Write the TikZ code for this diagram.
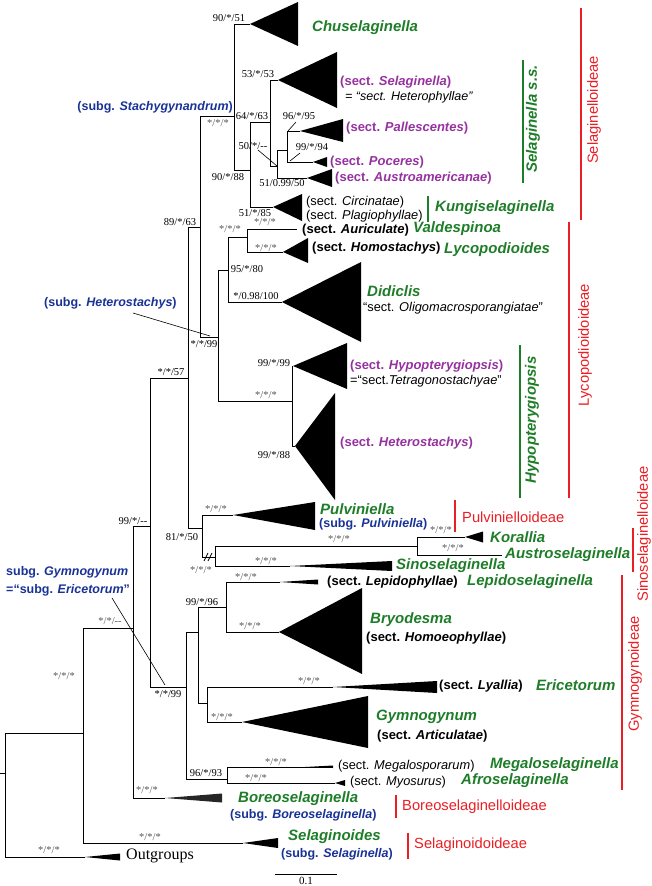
\documentclass[tikz,border=0pt]{standalone}
\usepackage{fontspec}
\setmainfont{Liberation Sans}
\newfontfamily\serifL{Liberation Serif}
\definecolor{gen}{RGB}{30,125,40}
\definecolor{purp}{RGB}{150,50,160}
\definecolor{sbl}{RGB}{25,50,150}
\definecolor{famc}{RGB}{235,30,35}
\definecolor{ast}{RGB}{85,85,85}
\tikzset{
  br/.style={line width=1pt},
  bsup/.style={font=\serifL\fontsize{10.5}{11}\selectfont, inner sep=0pt},
  gsup/.style={bsup, text=ast},
  genus/.style={font=\bfseries\itshape\fontsize{15}{16}\selectfont, text=gen, anchor=west, inner sep=0pt},
  sectn/.style={font=\fontsize{12.8}{14}\selectfont, anchor=west, inner sep=0pt},
  sectb/.style={font=\bfseries\fontsize{13}{14}\selectfont, anchor=west, inner sep=0pt},
  sectp/.style={sectb, text=purp},
  subg/.style={font=\bfseries\fontsize{12.5}{14}\selectfont, anchor=west, inner sep=0pt, text=sbl},
  fam/.style={font=\fontsize{14.7}{16}\selectfont, text=famc, inner sep=0pt},
  fambar/.style={draw=famc, line width=1.6pt},
  genbar/.style={draw=gen, line width=1.6pt},
  ptr/.style={line width=0.6pt},
}
\begin{document}
\begin{tikzpicture}[x=1pt,y=-1pt]
\path[use as bounding box] (0,0) rectangle (651,886);

% internal nodes
\coordinate (rt0) at (0,773);
\coordinate (root) at (5,773);
\coordinate (nA) at (83,733);
\coordinate (nB) at (133,628);
\coordinate (nC) at (150,526);
\coordinate (nD) at (188,378);
\coordinate (nE) at (200,227);
\coordinate (nF) at (234,116);
\coordinate (nF2) at (250,170);
\coordinate (nS) at (270,122);
\coordinate (nS2) at (277,166);
\coordinate (nS3) at (287,150);
\coordinate (nL) at (218,337);
\coordinate (nL1) at (228,270);
\coordinate (nL2) at (247,237);
\coordinate (nH) at (292,401);
\coordinate (nP) at (202,528);
\coordinate (nK) at (215,557);
\coordinate (nK2) at (417,546);
\coordinate (nG) at (186,687);
\coordinate (nG1) at (198,632);
\coordinate (nG2) at (226,607);
\coordinate (nG3) at (207,703);
\coordinate (nM) at (227,779);
% tips
\coordinate (tChus) at (250,24);
\coordinate (tSel) at (278,80);
\coordinate (tPall) at (300,131);
\coordinate (tPoc) at (313,162);
\coordinate (tAus) at (307,178);
\coordinate (tKun) at (273,207);
\coordinate (tVal) at (297,229);
\coordinate (tLyc) at (283,252);
\coordinate (tDid) at (282,302);
\coordinate (tHyp) at (293,366);
\coordinate (tHet) at (295,446);
\coordinate (tPul) at (233,515);
\coordinate (tKor) at (465,537);
\coordinate (tAsl) at (502,555);
\coordinate (tSin) at (290,566);
\coordinate (tLep) at (280,582);
\coordinate (tBry) at (279,632);
\coordinate (tLya) at (333,687);
\coordinate (tGym) at (242,722);
\coordinate (tMeg) at (333,767);
\coordinate (tMyo) at (335,783);
\coordinate (tBor) at (165,798);
\coordinate (tSgd) at (243,843);
\coordinate (tOut) at (85,857);

% branches
\draw[br] (rt0) -- (root);
\draw[br] (root) |- (nA); \draw[br] (root) |- (tOut);
\draw[br] (nA) |- (nB); \draw[br] (nA) |- (tSgd);
\draw[br] (nB) |- (nC); \draw[br] (nB) |- (tBor);
\draw[br] (nC) |- (nD); \draw[br] (nC) |- (nG);
\draw[br] (nD) |- (nE); \draw[br] (nD) |- (nP);
\draw[br] (nE) |- (nF); \draw[br] (nE) |- (nL);
\draw[br] (nF) |- (tChus); \draw[br] (nF) |- (nF2);
\draw[br] (nF2) |- (nS); \draw[br] (nF2) |- (tKun);
\draw[br] (nS) |- (tSel); \draw[br] (nS) |- (nS2);
\draw[br] (nS2) |- (nS3); \draw[br] (nS2) |- (tAus);
\draw[br] (nS3) |- (tPall); \draw[br] (nS3) |- (tPoc);
\draw[br] (nL) |- (nL1); \draw[br] (nL) |- (nH);
\draw[br] (nL1) |- (nL2); \draw[br] (nL1) |- (tDid);
\draw[br] (nL2) |- (tVal); \draw[br] (nL2) |- (tLyc);
\draw[br] (nH) |- (tHyp); \draw[br] (nH) |- (tHet);
\draw[br] (nP) |- (tPul); \draw[br] (nP) |- (nK);
\draw[br] (nK) |- (nK2); \draw[br] (nK) |- (tSin);
\draw[br] (nK2) |- (tKor); \draw[br] (nK2) |- (tAsl);
\draw[br] (nG) |- (nG1); \draw[br] (nG) |- (nM);
\draw[br] (nG1) |- (nG2); \draw[br] (nG1) |- (nG3);
\draw[br] (nG2) |- (tLep); \draw[br] (nG2) |- (tBry);
\draw[br] (nG3) |- (tLya); \draw[br] (nG3) |- (tGym);
\draw[br] (nM) |- (tMeg); \draw[br] (nM) |- (tMyo);
% break marks
\draw[line width=0.8pt] (204,561) -- (208,553) (208,561) -- (212,553);

% collapsed clades
\fill (tChus) -- ++(48,-22) -- ++(0,44) -- cycle;
\fill (tSel) -- ++(59,-28) -- ++(0,56) -- cycle;
\fill (tPall) -- ++(43,-12) -- ++(0,23) -- cycle;
\fill (tPoc) -- ++(14,-5) -- ++(0,10) -- cycle;
\fill (tAus) -- ++(25,-9) -- ++(0,18) -- cycle;
\fill (tKun) -- ++(29,-13) -- ++(0,27) -- cycle;
\fill (tLyc) -- ++(25,-14) -- ++(0,25) -- cycle;
\fill (tDid) -- ++(79,-40) -- ++(0,80) -- cycle;
\fill (tHyp) -- ++(54,-23) -- ++(0,46) -- cycle;
\fill (tHet) -- ++(40,-53) -- ++(0,107) -- cycle;
\fill (tPul) -- ++(82,-13) -- ++(0,28) -- cycle;
\fill (tKor) -- ++(18,-5.5) -- ++(0,11) -- cycle;
\fill (tSin) -- ++(102,-5) -- ++(0,10) -- cycle;
\fill (tLep) -- ++(38,-2.5) -- ++(0,5) -- cycle;
\fill (tBry) -- ++(83,-44) -- ++(0,86) -- cycle;
\fill (tLya) -- ++(104,-6) -- ++(0,12) -- cycle;
\fill (tGym) -- ++(126,-26) -- ++(0,52) -- cycle;
\fill (tMeg) -- ++(-28,0) -- ++(28,-1.5) -- ++(0,3) -- cycle;
\fill (tMyo) -- ++(10,-3) -- ++(0,6) -- cycle;
\fill[black!85] (tBor) -- ++(57,-4.5) -- ++(0,9) -- cycle;
\fill (tSgd) -- ++(35,-5) -- ++(0,10) -- cycle;
\fill (tOut) -- ++(35,-3.5) -- ++(0,7) -- cycle;

% support values
\node[bsup] (s01) at (229,18) {90/*/51};
\node[bsup] (s02) at (258,74) {53/*/53};
\node[bsup] (s03) at (252,116) {64/*/63};
\node[bsup] (s04) at (299,116) {96/*/95};
\node[bsup] (s05) at (253,146) {50/*/{-}{-}};
\node[bsup] (s06) at (312,147) {99/*/94};
\node[bsup] (s07) at (228,177) {90/*/88};
\node[bsup] (s08) at (282,183) {51/0.99/50};
\node[bsup] (s09) at (255,213) {51/*/85};
\node[bsup] (s10) at (180,222) {89/*/63};
\node[gsup] (s11) at (218,123) {*/*/*};
\node[gsup] (s12) at (265,222) {*/*/*};
\node[gsup] (s13) at (230,229) {*/*/*};
\node[gsup] (s14) at (266,248) {*/*/*};
\node[bsup] (s15) at (247,269) {95/*/80};
\node[bsup] (s16) at (256,296) {*/0.98/100};
\node[bsup] (s17) at (204,344) {*/*/99};
\node[bsup] (s18) at (171,372) {*/*/57};
\node[bsup] (s19) at (274,363) {99/*/99};
\node[gsup] (s20) at (266,395) {*/*/*};
\node[bsup] (s21) at (274,455) {99/*/88};
\node[gsup] (s22) at (216,509) {*/*/*};
\node[bsup] (s23) at (133,521) {99/*/{-}{-}};
\node[bsup] (s24) at (182,537) {81/*/50};
\node[gsup] (s25) at (339,539) {*/*/*};
\node[gsup] (s26) at (441,530) {*/*/*};
\node[gsup] (s27) at (453,548) {*/*/*};
\node[gsup] (s28) at (266,561) {*/*/*};
\node[gsup] (s29) at (201,570) {*/*/*};
\node[gsup] (s30) at (246,577) {*/*/*};
\node[bsup] (s31) at (202,602) {99/*/96};
\node[gsup] (s32) at (110,621) {*/*/{-}{-}};
\node[gsup] (s33) at (250,626) {*/*/*};
\node[gsup] (s34) at (64,676) {*/*/*};
\node[gsup] (s35) at (309,681) {*/*/*};
\node[bsup] (s36) at (168,694) {*/*/99};
\node[gsup] (s37) at (222,717) {*/*/*};
\node[gsup] (s38) at (276,762) {*/*/*};
\node[bsup] (s39) at (206,773) {96/*/93};
\node[gsup] (s40) at (256,778) {*/*/*};
\node[gsup] (s41) at (147,790) {*/*/*};
\node[gsup] (s42) at (150,837) {*/*/*};
\node[gsup] (s43) at (49,850) {*/*/*};

% pointer lines for small labels
\coordinate (p04) at (296,122); \coordinate (q04) at (288,131);
\coordinate (p05) at (258,150);
\coordinate (p06) at (300,153); \coordinate (q06) at (290,161);
\draw[ptr] (p04) -- (q04);
\draw[ptr] (p05) -- (nS2);
\draw[ptr] (p06) -- (q06);

% tip labels
\node[genus] (Tchus) at (312,28) {Chuselaginella};
\node[sectp] (Tsel) at (340,82) {(sect. \textit{Selaginella})};
\node[sectn, font=\itshape\fontsize{12.5}{13}\selectfont] (Theph) at (345,97) {= “sect. Heterophyllae”};
\node[sectp] (Tpal) at (346,128) {(sect. \textit{Pallescentes})};
\node[sectp] (Tpoc) at (330,162) {(sect. \textit{Poceres})};
\node[sectp] (Taus) at (335,178) {(sect. \textit{Austroamericanae})};
\node[sectn] (Tcir) at (306,202) {(sect. \textit{Circinatae})};
\node[sectn] (Tpla) at (306,216) {(sect. \textit{Plagiophyllae})};
\node[genus] (Tkun) at (435,208) {Kungiselaginella};
\node[sectb] (Taur) at (302,230) {(sect. \textit{Auriculate})};
\node[genus] (Tval) at (413,229) {Valdespinoa};
\node[sectb] (Thom) at (312,248) {(sect. \textit{Homostachys})};
\node[genus] (Tlyc) at (444,250) {Lycopodioides};
\node[genus] (Tdid) at (367,291) {Didiclis};
\node[sectn] (Toli) at (363,308) {“sect. \textit{Oligomacrosporangiatae}”};
\node[sectp] (Thyp) at (350,366) {(sect. \textit{Hypopterygiopsis})};
\node[sectn] (Ttet) at (350,381) {=“sect.\textit{Tetragonostachyae}”};
\node[sectp] (Thet) at (340,443) {(sect. \textit{Heterostachys})};
\node[genus] (Tpul) at (320,509) {Pulviniella};
\node[subg] (Tspu) at (319,524) {(subg. \textit{Pulviniella})};
\node[genus] (Tkor) at (490,537) {Korallia};
\node[genus] (Tasl) at (505,555) {Austroselaginella};
\node[genus] (Tsin) at (396,566) {Sinoselaginella};
\node[sectb] (Tlep) at (327,582) {(sect. \textit{Lepidophyllae})};
\node[genus] (Tlpg) at (467,582) {Lepidoselaginella};
\node[genus] (Tbry) at (370,620) {Bryodesma};
\node[sectb] (Thoe) at (366,638) {(sect. \textit{Homoeophyllae})};
\node[sectb] (Tlya) at (439,686) {(sect. \textit{Lyallia})};
\node[genus] (Teri) at (536,685) {Ericetorum};
\node[genus] (Tgym) at (376,717) {Gymnogynum};
\node[sectb] (Tart) at (377,736) {(sect. \textit{Articulatae})};
\node[sectn] (Tmeg) at (338,766) {(sect. \textit{Megalosporarum})};
\node[genus] (Tmgs) at (490,765) {Megaloselaginella};
\node[sectn] (Tmyo) at (350,782) {(sect. \textit{Myosurus})};
\node[genus] (Tafr) at (461,781) {Afroselaginella};
\node[genus] (Tbor) at (238,799) {Boreoselaginella};
\node[subg] (Tsbo) at (230,815) {(subg. \textit{Boreoselaginella})};
\node[genus] (Tsgd) at (288,837) {Selaginoides};
\node[subg] (Tssg) at (281,854) {(subg. \textit{Selaginella})};
\node[font=\serifL\fontsize{16}{17}\selectfont, anchor=west, inner sep=0pt] (Tout) at (126,856) {Outgroups};

% subgenus labels
\node[subg, anchor=east] (Bsta) at (233,107) {(subg. \textit{Stachygynandrum})};
\node[subg] (Bhet) at (44,303) {(subg. \textit{Heterostachys})};
\node[subg] (Bgy1) at (6,572) {subg. \textit{Gymnogynum}};
\node[subg] (Bgy2) at (6,590) {=“subg. \textit{Ericetorum}”};
\coordinate (pHet) at (133,313); \coordinate (qHet) at (210,336);
\coordinate (pGym) at (112,598); \coordinate (qGym) at (165,685);
\draw[ptr] (pHet) -- (qHet);
\draw[ptr] (pGym) -- (qGym);

% clade bars (green)
\draw[genbar] (523,60) -- (523,183);
\node[genus, anchor=center, rotate=90] (Gsss) at (533,119) {Selaginella s.s.};
\draw[genbar] (428,196) -- (428,222);
\draw[genbar] (520,345) -- (520,498);
\node[genus, anchor=center, rotate=90] (Ghyp) at (532,420) {Hypopterygiopsis};

% subfamily bars (red)
\draw[fambar] (581,8) -- (581,220);
\node[fam, rotate=90] (Fsel) at (594,110) {Selaginelloideae};
\draw[fambar] (569,222) -- (569,498);
\node[fam, rotate=90] (Flyc) at (585,345) {Lycopodioidoideae};
\draw[fambar] (455,500) -- (455,532);
\node[fam, anchor=west] (Fpul) at (462,517) {Pulvinielloideae};
\draw[fambar] (633,528) -- (633,572);
\node[fam, rotate=90] (Fsin) at (644,534) {Sinoselaginelloideae};
\draw[fambar] (622,575) -- (622,790);
\node[fam, rotate=90] (Fgym) at (635,674) {Gymnogynoideae};
\draw[fambar] (396,795) -- (396,818);
\node[fam, anchor=west] (Fbor) at (402,807) {Boreoselaginelloideae};
\draw[fambar] (408,833) -- (408,859);
\node[fam, anchor=west] (Fsgd) at (414,845) {Selaginoidoideae};

% scale bar
\coordinate (sb1) at (275,874); \coordinate (sb2) at (337,874);
\draw[line width=0.8pt] (sb1) -- (sb2);
\node[bsup, font=\serifL\fontsize{11}{12}\selectfont] (sbl) at (306,881) {0.1};
\end{tikzpicture}
\end{document}
